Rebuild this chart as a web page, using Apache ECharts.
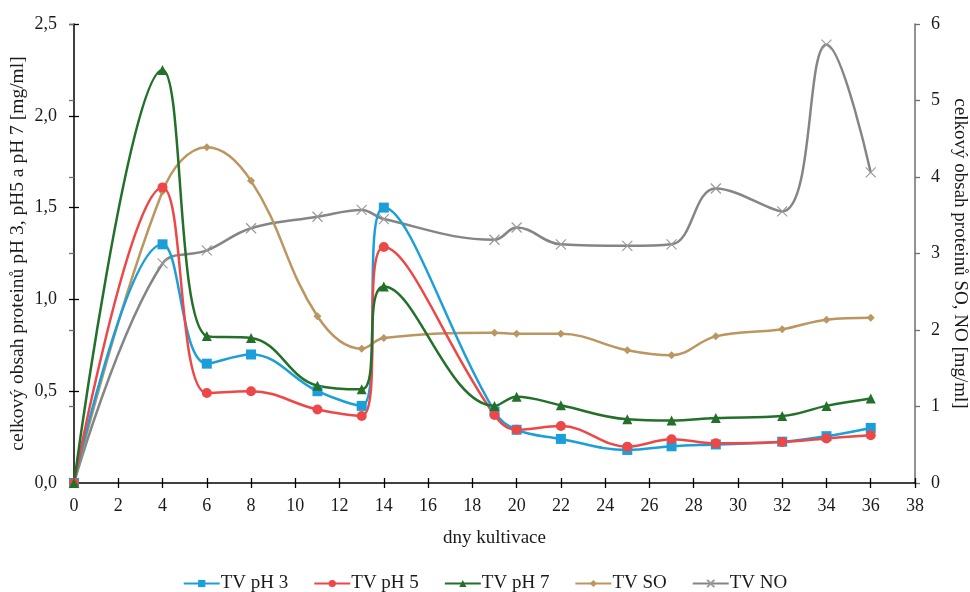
<!DOCTYPE html>
<html>
<head>
<meta charset="utf-8">
<script src="https://cdn.jsdelivr.net/npm/echarts@6/dist/echarts.min.js"></script>
<style>
  html, body { margin: 0; padding: 0; background: #fff; }
  #chart { width: 970px; height: 592px; }
</style>
</head>
<body>
<div id="chart"></div>
<script>
// Days of cultivation
const days = [0, 4, 6, 8, 11, 13, 14, 19, 20, 22, 25, 27, 29, 32, 34, 36];

// Total protein content [mg/ml] – left axis
const tvPh3 = [0, 1.30, 0.65, 0.70, 0.50, 0.42, 1.50, 0.39, 0.29, 0.24, 0.18, 0.20, 0.21, 0.225, 0.255, 0.30];
const tvPh5 = [0, 1.61, 0.49, 0.50, 0.40, 0.365, 1.285, 0.37, 0.29, 0.31, 0.198, 0.238, 0.216, 0.223, 0.243, 0.26];
const tvPh7 = [0, 2.25, 0.80, 0.79, 0.53, 0.51, 1.07, 0.42, 0.47, 0.423, 0.347, 0.34, 0.354, 0.365, 0.42, 0.46];

// Total protein content [mg/ml] – right axis
const tvSO = [0, 3.81, 4.39, 3.95, 2.18, 1.756, 1.895, 1.965, 1.95, 1.95, 1.735, 1.67, 1.917, 2.01, 2.135, 2.16];
const tvNO = [0, 2.87, 3.04, 3.33, 3.48, 3.57, 3.45, 3.18, 3.34, 3.12, 3.10, 3.12, 3.85, 3.55, 5.73, 4.06];

const seriesNames = ['TV pH 3', 'TV pH 5', 'TV pH 7', 'TV SO', 'TV NO'];
const colors = ['#1c9fd9', '#ee4747', '#23702a', '#bb9660', '#858585'];

const FONT = '"Liberation Serif", "Times New Roman", serif';
const TXT = '#1a1a1a';

const pairs = (ys) => days.map((d, i) => [d, ys[i]]);
const crossPath = 'path://M0,0L10,10M10,0L0,10';

function makeSeries(name, ys, axis, color, symbol, size, extra) {
  return Object.assign({
    name: name,
    type: 'line',
    yAxisIndex: axis,
    data: pairs(ys),
    smooth: 0.4,
    symbol: symbol,
    symbolSize: size,
    showAllSymbol: true,
    lineStyle: { color: color, width: 2.5 },
    itemStyle: { color: color },
    emphasis: { disabled: true },
    animation: false
  }, extra || {});
}

const chart = echarts.init(document.getElementById('chart'), null, { renderer: 'canvas' });

const tickLen = 5;
chart.setOption({
  backgroundColor: '#ffffff',
  animation: false,
  textStyle: { fontFamily: FONT },
  grid: { left: 74, right: 55, top: 24, bottom: 109, containLabel: false, outerBoundsMode: 'none' },
  legend: {
    top: 574,
    left: 'center',
    padding: 0,
    itemWidth: 36,
    itemHeight: 9,
    itemGap: 25,
    data: seriesNames,
    textStyle: { fontFamily: FONT, fontSize: 19, color: TXT, padding: [0, 0, 0, -4] }
  },
  xAxis: [
    {
      type: 'value', min: 0, max: 38, interval: 2,
      name: 'dny kultivace', nameLocation: 'middle', nameGap: 46, nameMoveOverlap: false,
      nameTextStyle: { fontFamily: FONT, fontSize: 19, color: TXT },
      axisLine: { onZero: false, lineStyle: { color: '#000', width: 1.5 } },
      axisTick: { show: true, length: tickLen, lineStyle: { color: '#000', width: 1.3 } },
      axisLabel: { fontFamily: FONT, fontSize: 18, color: TXT, margin: 14 },
      splitLine: { show: false }
    },
    {
      type: 'value', min: 0, max: 38, interval: 2, position: 'bottom',
      axisLine: { show: false },
      axisTick: { show: true, inside: true, length: tickLen, lineStyle: { color: '#000', width: 1.3 } },
      axisLabel: { show: false },
      splitLine: { show: false }
    }
  ],
  yAxis: [
    {
      type: 'value', min: 0, max: 2.5, interval: 0.5, position: 'left',
      name: 'celkový obsah proteinů pH 3, pH5 a pH 7 [mg/ml]',
      nameLocation: 'middle', nameGap: 46, nameRotate: 90, nameMoveOverlap: false,
      nameTextStyle: { fontFamily: FONT, fontSize: 19.5, color: TXT },
      axisLine: { show: true, onZero: false, lineStyle: { color: '#000', width: 1.5 } },
      axisTick: { show: true, length: tickLen, lineStyle: { color: '#000', width: 1.3 } },
      axisLabel: {
        fontFamily: FONT, fontSize: 18, color: TXT, margin: 17,
        formatter: (v) => v.toFixed(1).replace('.', ',')
      },
      splitLine: { show: false }
    },
    {
      type: 'value', min: 0, max: 6, interval: 1, position: 'right',
      name: 'celkový obsah proteinů SO, NO [mg/ml]',
      nameLocation: 'middle', nameGap: 35, nameRotate: -90, nameMoveOverlap: false,
      nameTextStyle: { fontFamily: FONT, fontSize: 19, color: TXT },
      axisLine: { show: true, onZero: false, lineStyle: { color: '#6e6e6e', width: 1.5 } },
      axisTick: { show: true, length: tickLen, lineStyle: { color: '#6e6e6e', width: 1.3 } },
      axisLabel: { fontFamily: FONT, fontSize: 18, color: TXT, margin: 16 },
      splitLine: { show: false }
    },
    {
      type: 'value', min: 0, max: 2.5, interval: 0.5, position: 'left',
      axisLine: { show: false },
      axisTick: { show: true, inside: true, length: tickLen, lineStyle: { color: '#000', width: 1.3 } },
      axisLabel: { show: false },
      splitLine: { show: false }
    },
    {
      type: 'value', min: 0, max: 6, interval: 1, position: 'right',
      axisLine: { show: false },
      axisTick: { show: true, inside: true, length: tickLen, lineStyle: { color: '#6e6e6e', width: 1.3 } },
      axisLabel: { show: false },
      splitLine: { show: false }
    }
  ],
  series: [
    makeSeries('TV NO', tvNO, 1, colors[4], crossPath, 10, {
      itemStyle: { color: 'rgba(0,0,0,0)', borderColor: '#9a9a9a', borderWidth: 1.2 }
    }),
    makeSeries('TV SO', tvSO, 1, colors[3], 'diamond', 8),
    makeSeries('TV pH 3', tvPh3, 0, colors[0], 'rect', 10),
    makeSeries('TV pH 5', tvPh5, 0, colors[1], 'circle', 10),
    makeSeries('TV pH 7', tvPh7, 0, colors[2], 'triangle', 10)
  ]
});
</script>
</body>
</html>
